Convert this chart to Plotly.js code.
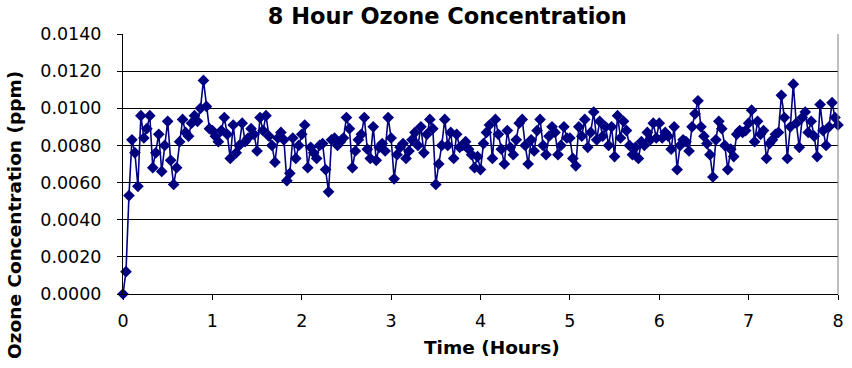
<!DOCTYPE html>
<html>
<head>
<meta charset="utf-8">
<script src="https://cdn.plot.ly/plotly-3.0.1.min.js"></script>
<style>html,body{margin:0;padding:0;background:#fff;}#chart{width:852px;height:368px;}</style>
</head>
<body>
<div id="chart"></div>
<script>
// Sampling interval (hours) between readings
var sampleStepHours = 2 / 60;

// Ozone concentration (ppm), hour 0-1
var ozoneHour0 = [0.0000, 0.0012, 0.0053, 0.0083, 0.0076, 0.0058, 0.0096, 0.0084, 0.0089, 0.0096,
                  0.0068, 0.0076, 0.0086, 0.0066, 0.0080, 0.0093, 0.0072, 0.0059, 0.0068, 0.0082,
                  0.0094, 0.0087, 0.0085, 0.0092, 0.0096, 0.0093, 0.0100, 0.0115, 0.0101, 0.0089];
var ozoneHour1 = [0.0088, 0.0085, 0.0082, 0.0088, 0.0095, 0.0086, 0.0073, 0.0091, 0.0076, 0.0080,
                  0.0092, 0.0082, 0.0084, 0.0089, 0.0086, 0.0077, 0.0095, 0.0088, 0.0096, 0.0085,
                  0.0080, 0.0071, 0.0084, 0.0087, 0.0083, 0.0061, 0.0065, 0.0084, 0.0073, 0.0080];
var ozoneHour2 = [0.0086, 0.0091, 0.0068, 0.0079, 0.0076, 0.0073, 0.0080, 0.0081, 0.0067, 0.0055,
                  0.0083, 0.0084, 0.0080, 0.0082, 0.0084, 0.0095, 0.0089, 0.0068, 0.0077, 0.0083,
                  0.0086, 0.0095, 0.0078, 0.0073, 0.0090, 0.0072, 0.0079, 0.0081, 0.0077, 0.0095];
var ozoneHour3 = [0.0084, 0.0062, 0.0075, 0.0079, 0.0081, 0.0073, 0.0077, 0.0083, 0.0087, 0.0080,
                  0.0090, 0.0076, 0.0086, 0.0094, 0.0089, 0.0059, 0.0070, 0.0080, 0.0094, 0.0080,
                  0.0087, 0.0073, 0.0086, 0.0079, 0.0080, 0.0082, 0.0078, 0.0075, 0.0068, 0.0074];
var ozoneHour4 = [0.0067, 0.0081, 0.0087, 0.0091, 0.0073, 0.0094, 0.0086, 0.0078, 0.0070, 0.0088,
                  0.0079, 0.0075, 0.0083, 0.0092, 0.0094, 0.0080, 0.0070, 0.0083, 0.0077, 0.0088,
                  0.0094, 0.0080, 0.0075, 0.0085, 0.0090, 0.0087, 0.0075, 0.0080, 0.0090, 0.0084];
var ozoneHour5 = [0.0084, 0.0073, 0.0069, 0.0090, 0.0085, 0.0094, 0.0079, 0.0087, 0.0098, 0.0083,
                  0.0093, 0.0085, 0.0090, 0.0080, 0.0090, 0.0074, 0.0096, 0.0084, 0.0093, 0.0088,
                  0.0080, 0.0075, 0.0079, 0.0073, 0.0082, 0.0080, 0.0087, 0.0083, 0.0092, 0.0084];
var ozoneHour6 = [0.0092, 0.0084, 0.0087, 0.0085, 0.0078, 0.0090, 0.0067, 0.0080, 0.0083, 0.0082,
                  0.0077, 0.0090, 0.0097, 0.0104, 0.0090, 0.0085, 0.0081, 0.0075, 0.0063, 0.0083,
                  0.0093, 0.0089, 0.0080, 0.0067, 0.0078, 0.0074, 0.0086, 0.0088, 0.0087, 0.0088];
var ozoneHour7 = [0.0092, 0.0099, 0.0082, 0.0093, 0.0086, 0.0088, 0.0073, 0.0081, 0.0083, 0.0086,
                  0.0087, 0.0107, 0.0095, 0.0073, 0.0090, 0.0113, 0.0092, 0.0079, 0.0095, 0.0098,
                  0.0087, 0.0093, 0.0085, 0.0074, 0.0102, 0.0088, 0.0080, 0.0090, 0.0103, 0.0095,
                  0.0091];

// Axis tick values / labels
var xTickVals = [0, 1, 2, 3, 4, 5, 6, 7, 8];
var yTickVals = [0, 0.002, 0.004, 0.006, 0.008, 0.010, 0.012, 0.014];
var yTickText = ["0.0000", "0.0020", "0.0040", "0.0060", "0.0080", "0.0100", "0.0120", "0.0140"];

var ozone = [].concat(ozoneHour0, ozoneHour1, ozoneHour2, ozoneHour3,
                      ozoneHour4, ozoneHour5, ozoneHour6, ozoneHour7);
var timeHours = ozone.map(function (_, i) { return i * sampleStepHours; });

var navy = '#000080';
var font = 'DejaVu Sans, Arial, sans-serif';

var trace = {
  x: timeHours,
  y: ozone,
  type: 'scatter',
  mode: 'lines+markers',
  line: {color: navy, width: 1.6},
  marker: {symbol: 'diamond', size: 9, color: navy, line: {width: 0}},
  cliponaxis: false,
  hoverinfo: 'skip'
};

var layout = {
  width: 852,
  height: 368,
  margin: {l: 123, r: 14, t: 34, b: 74},
  paper_bgcolor: '#ffffff',
  plot_bgcolor: '#ffffff',
  showlegend: false,
  font: {family: font, color: '#000', size: 17},
  title: {
    text: '<b>8 Hour Ozone Concentration</b>',
    font: {family: font, size: 22.5, color: '#000'},
    xref: 'container', x: 0.525, xanchor: 'center',
    yref: 'container', y: 0.955, yanchor: 'middle'
  },
  xaxis: {
    range: [0, 8],
    tickvals: xTickVals,
    ticktext: xTickVals.map(String),
    ticks: 'outside', ticklen: 5, tickcolor: '#000', tickwidth: 1,
    ticklabelstandoff: 6,
    showgrid: false, zeroline: false,
    showline: true, linecolor: '#000', linewidth: 1,
    tickfont: {family: font, size: 17.5, color: '#000'}
  },
  yaxis: {
    range: [0, 0.014],
    tickvals: yTickVals,
    ticktext: yTickText,
    ticks: 'outside', ticklen: 5, tickcolor: '#000', tickwidth: 1,
    ticklabelstandoff: 12,
    showgrid: true, gridcolor: '#000', gridwidth: 1,
    zeroline: false,
    showline: true, linecolor: '#000', linewidth: 1,
    tickfont: {family: font, size: 17.5, color: '#000'}
  },
  shapes: [{
    type: 'line', xref: 'paper', yref: 'paper',
    x0: 1, x1: 1, y0: 0, y1: 1,
    line: {color: '#808080', width: 1}
  }],
  annotations: [
    {
      text: '<b>Time (Hours)</b>',
      xref: 'paper', yref: 'paper', x: 0.516, y: -0.204,
      xanchor: 'center', yanchor: 'middle', showarrow: false,
      font: {family: font, size: 18.5, color: '#000'}
    },
    {
      text: '<b>Ozone Concentration (ppm)</b>',
      xref: 'paper', yref: 'paper', x: -0.151, y: 0.304,
      xanchor: 'center', yanchor: 'middle', textangle: -90, showarrow: false,
      font: {family: font, size: 18.5, color: '#000'}
    }
  ]
};

Plotly.newPlot('chart', [trace], layout, {displayModeBar: false, staticPlot: true});
</script>
</body>
</html>
